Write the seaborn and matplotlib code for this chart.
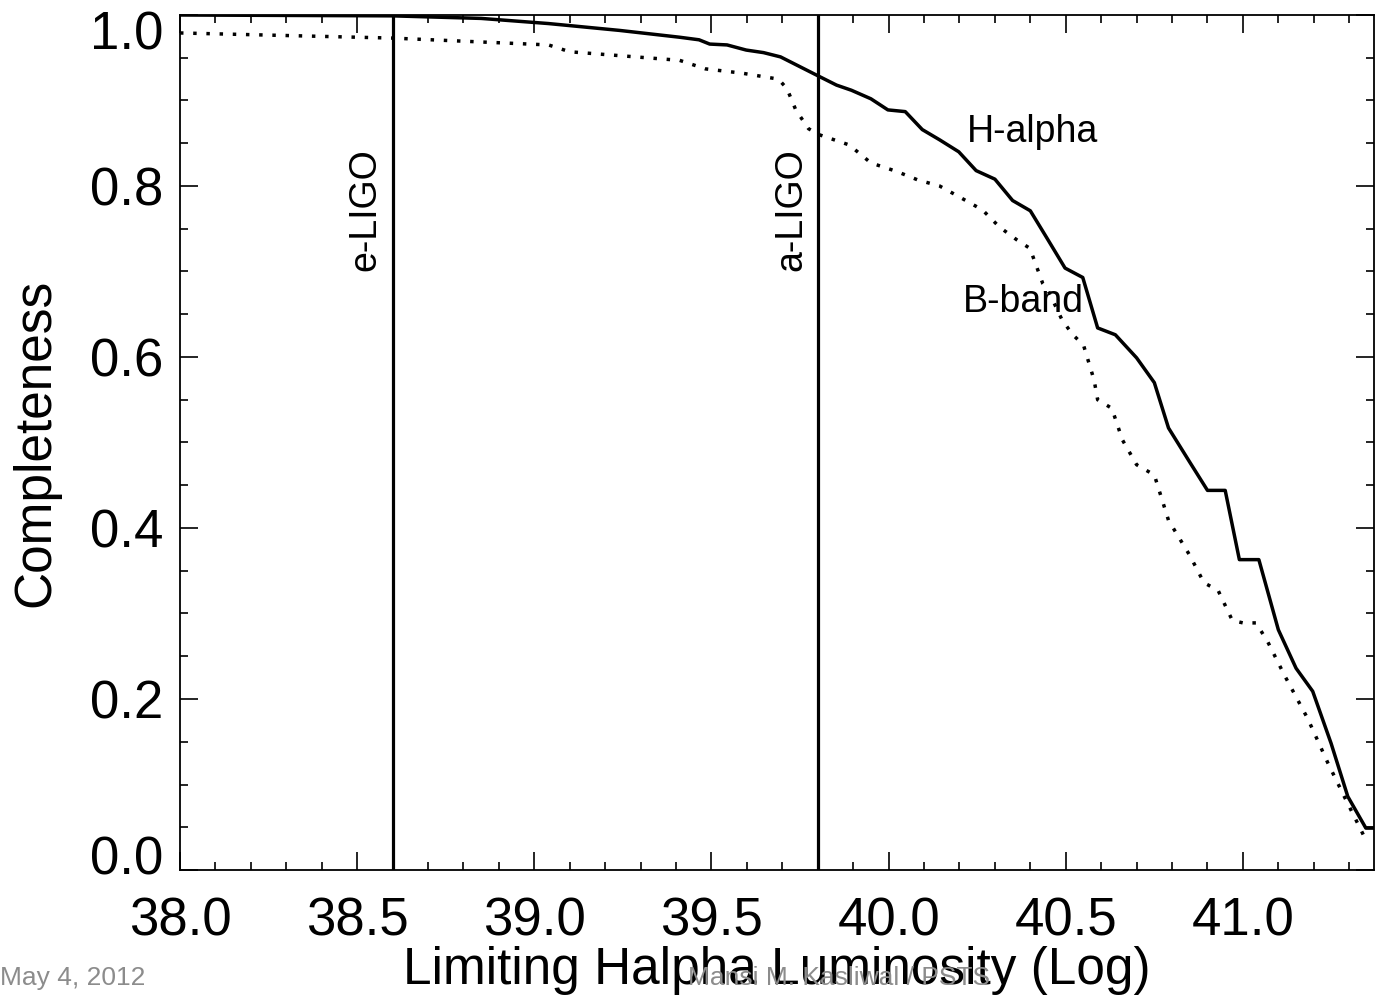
import numpy as np
import pandas as pd
import matplotlib
matplotlib.use("Agg")
import matplotlib.pyplot as plt
from matplotlib.ticker import MultipleLocator, FormatStrFormatter
from matplotlib.transforms import ScaledTranslation
import seaborn as sns

halpha_x = [38.0, 38.6, 38.85, 39.04, 39.24, 39.41, 39.465, 39.495, 39.544, 39.598,
            39.647, 39.695, 39.80, 39.853, 39.895, 39.95, 39.998, 40.047, 40.095,
            40.144, 40.198, 40.247, 40.30, 40.35, 40.40, 40.447, 40.498, 40.548,
            40.59, 40.64, 40.70, 40.75, 40.79, 40.85, 40.90, 40.95, 40.99, 41.045,
            41.10, 41.15, 41.197, 41.249, 41.296, 41.347, 41.37]
halpha_y = [1.0, 0.999, 0.996, 0.99, 0.982, 0.974, 0.971, 0.966, 0.965, 0.959,
            0.956, 0.951, 0.929, 0.918, 0.912, 0.902, 0.889, 0.887, 0.866,
            0.854, 0.840, 0.818, 0.808, 0.783, 0.771, 0.739, 0.704, 0.693,
            0.634, 0.626, 0.599, 0.570, 0.517, 0.477, 0.444, 0.444, 0.363, 0.363,
            0.281, 0.236, 0.209, 0.148, 0.086, 0.049, 0.049]

bband_x = [38.0, 38.6, 39.04, 39.1, 39.41, 39.483, 39.586, 39.689, 39.713, 39.738,
           39.774, 39.804, 39.889, 39.95, 40.023, 40.083, 40.144, 40.205, 40.265,
           40.313, 40.362, 40.399, 40.435, 40.45, 40.49, 40.52, 40.55, 40.58,
           40.59, 40.63, 40.66, 40.70, 40.75, 40.79, 40.85, 40.89, 40.93, 40.97,
           41.0, 41.037, 41.07, 41.117, 41.183, 41.24, 41.286, 41.333, 41.347]
bband_y = [0.979, 0.973, 0.965, 0.957, 0.947, 0.937, 0.932, 0.925, 0.914, 0.889,
           0.867, 0.860, 0.848, 0.827, 0.817, 0.807, 0.800, 0.786, 0.772,
           0.752, 0.737, 0.727, 0.686, 0.678, 0.643, 0.626, 0.614, 0.573,
           0.55, 0.540, 0.503, 0.474, 0.462, 0.409, 0.368, 0.336, 0.327, 0.292,
           0.289, 0.289, 0.267, 0.228, 0.177, 0.125, 0.086, 0.047, 0.035]

ligo_x = [38.6, 39.8]
ligo_names = ["e-LIGO", "a-LIGO"]

df_h = pd.DataFrame({"lum": halpha_x, "comp": halpha_y})
df_b = pd.DataFrame({"lum": bband_x, "comp": bband_y})

sns.set_style("ticks")
plt.rcParams["font.family"] = ["Liberation Sans", "DejaVu Sans"]
plt.rcParams["text.color"] = "black"
plt.rcParams["axes.labelcolor"] = "black"
plt.rcParams["xtick.color"] = "black"
plt.rcParams["ytick.color"] = "black"

fig = plt.figure(figsize=(13.75, 10.05), dpi=100)
ax = fig.add_axes([180 / 1375, 1 - 870 / 1005, 1194 / 1375, 855 / 1005])

sns.lineplot(data=df_h, x="lum", y="comp", ax=ax, color="black", lw=2.5,
             estimator=None, sort=False)
sns.lineplot(data=df_b, x="lum", y="comp", ax=ax, color="black", lw=2.5,
             linestyle=(0, (1, 2.8)), estimator=None, sort=False)

for xv, name in zip(ligo_x, ligo_names):
    ax.axvline(xv, color="black", lw=2.3)
    ax.text(xv - 0.025, 0.772, name, rotation=90, ha="right", va="center", fontsize=27)

ax.text(40.22, 0.863, "H-alpha", ha="left", va="center", fontsize=27)
ax.text(40.21, 0.664, "B-band", ha="left", va="center", fontsize=27)

ax.set_xlim(38.0, 41.37)
ax.set_ylim(0.0, 1.0)
ax.xaxis.set_major_locator(MultipleLocator(0.5))
ax.xaxis.set_minor_locator(MultipleLocator(0.1))
ax.yaxis.set_major_locator(MultipleLocator(0.2))
ax.yaxis.set_minor_locator(MultipleLocator(0.05))
ax.xaxis.set_major_formatter(FormatStrFormatter("%.1f"))
ax.yaxis.set_major_formatter(FormatStrFormatter("%.1f"))
ax.tick_params(which="both", direction="in", top=True, right=True, width=1.2,
               labelsize=38)
ax.tick_params(which="major", length=13)
ax.tick_params(axis="x", which="major", pad=19)
ax.tick_params(axis="y", which="major", pad=12)
ax.tick_params(which="minor", length=6)
for s in ax.spines.values():
    s.set_linewidth(1.3)
    s.set_color("black")

ax.set_xlabel("Limiting Halpha Luminosity (Log)", fontsize=37, labelpad=0)
ax.set_ylabel("Completeness", fontsize=37)
ax.yaxis.set_label_coords(-0.1, 0.5)

# end labels on the y axis are pulled inside the axis range
fig.canvas.draw()
for t in ax.yaxis.get_major_ticks():
    if abs(t.get_loc() - 0.0) < 1e-6:
        t.label1.set_transform(t.label1.get_transform() + ScaledTranslation(0, 0.15, fig.dpi_scale_trans))
    elif abs(t.get_loc() - 1.0) < 1e-6:
        t.label1.set_transform(t.label1.get_transform() + ScaledTranslation(0, -0.15, fig.dpi_scale_trans))

fig.text(0.0, 0.027, "May 4, 2012", fontsize=19, color="#8c8c8c", ha="left", va="center")
fig.text(0.61, 0.027, "Mansi M. Kasliwal / PSTS", fontsize=19, color="#8c8c8c",
         ha="center", va="center")

fig.savefig("out.png", dpi=100)
